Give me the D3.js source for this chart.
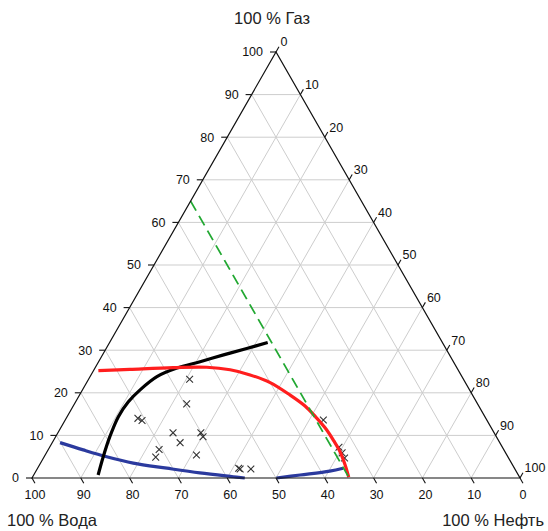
<!DOCTYPE html>
<html>
<head>
<meta charset="utf-8">
<script src="https://cdn.jsdelivr.net/npm/d3@7"></script>
<style>
  body { margin: 0; background: #fff; }
  svg { display: block; font-family: "Liberation Sans", Arial, sans-serif; }
</style>
</head>
<body>
<div id="chart"></div>
<script>
// ternary values are [gas %, oil %]; water % = 100 - gas - oil
const tickValues = [0, 10, 20, 30, 40, 50, 60, 70, 80, 90, 100];
const gridValues = [10, 20, 30, 40, 50, 60, 70, 80, 90];

const crossPoints = [
  [23.2, 20.7], [17.4, 23.0], [14.0, 14.7], [13.5, 15.8], [10.6, 23.6],
  [10.6, 29.3], [9.7, 30.2], [8.3, 26.2], [6.7, 22.7], [4.9, 22.9],
  [5.4, 31.0], [2.1, 41.6], [2.3, 41.2], [2.1, 43.8],
  [13.6, 52.9], [7.2, 59.3], [5.9, 60.6], [4.7, 61.7]
];

const blackCurve = [
  [0.7, 13.2], [5.0, 12.1], [9.7, 11.1], [14.4, 10.5], [17.9, 10.8],
  [20.7, 11.8], [23.8, 13.7], [25.8, 16.8], [27.3, 20.8], [28.9, 24.8],
  [30.4, 28.8], [31.8, 32.4]
];

const redCurve = [
  [25.2, 1.0], [25.5, 7.3], [25.9, 16.0], [26.0, 22.8], [25.4, 27.9],
  [24.2, 32.6], [22.4, 37.6], [19.5, 43.1], [16.9, 47.5], [14.3, 51.0],
  [11.5, 54.5], [8.7, 57.5], [6.1, 60.1], [3.1, 62.6], [0.2, 64.8]
];

const blueCurveLeft = [
  [8.3, 1.6], [6.6, 7.2], [5.0, 12.8], [3.5, 19.0], [2.3, 26.5],
  [1.2, 33.8], [0.3, 41.1], [0, 43.6]
];

const blueCurveRight = [
  [0, 50.1], [0.7, 54.6], [1.6, 60.2], [2.3, 62.6]
];

const greenLine = [[65, 0], [0, 65]];

document.addEventListener("DOMContentLoaded", function() {
  const width = 548;
  const height = 531;

  // triangle frame in pixels
  const left = 32, right = 520, baseY = 478, topY = 52;

  const xs = d3.scaleLinear().domain([0, 100]).range([left, right]); // oil + gas/2
  const ys = d3.scaleLinear().domain([0, 100]).range([baseY, topY]); // gas

  // gas, oil -> pixel
  const pt = (g, o) => [xs(o + g / 2), ys(g)];

  const svg = d3.select('#chart').append('svg')
    .attr('width', width)
    .attr('height', height);

  // grid lines
  const grid = svg.append('g')
    .attr('stroke', '#cdcdcd')
    .attr('stroke-width', 1)
    .attr('fill', 'none');

  gridValues.forEach(v => {
    // constant gas
    grid.append('line').attr('x1', pt(v, 0)[0]).attr('y1', pt(v, 0)[1])
      .attr('x2', pt(v, 100 - v)[0]).attr('y2', pt(v, 100 - v)[1]);
    // constant oil
    grid.append('line').attr('x1', pt(0, v)[0]).attr('y1', pt(0, v)[1])
      .attr('x2', pt(100 - v, v)[0]).attr('y2', pt(100 - v, v)[1]);
    // constant water
    grid.append('line').attr('x1', pt(0, 100 - v)[0]).attr('y1', pt(0, 100 - v)[1])
      .attr('x2', pt(100 - v, 0)[0]).attr('y2', pt(100 - v, 0)[1]);
  });

  // cross markers
  const s = 3.4;
  svg.append('g')
    .attr('stroke', '#333')
    .attr('stroke-width', 1.1)
    .selectAll('path')
    .data(crossPoints)
    .join('path')
    .attr('d', d => {
      const [x, y] = pt(d[0], d[1]);
      return `M${x - s},${y - s}L${x + s},${y + s}M${x - s},${y + s}L${x + s},${y - s}`;
    });

  const line = d3.line()
    .x(d => pt(d[0], d[1])[0])
    .y(d => pt(d[0], d[1])[1])
    .curve(d3.curveCatmullRom);

  const curves = svg.append('g').attr('fill', 'none')
    .attr('stroke-linecap', 'butt').attr('stroke-linejoin', 'round');

  curves.append('path').datum(blueCurveLeft).attr('d', line)
    .attr('stroke', '#2b3a9e').attr('stroke-width', 3.2);
  curves.append('path').datum(blueCurveRight).attr('d', line)
    .attr('stroke', '#2b3a9e').attr('stroke-width', 3.2);
  curves.append('path').datum(blackCurve).attr('d', line)
    .attr('stroke', '#000').attr('stroke-width', 3.2);
  curves.append('path').datum(redCurve).attr('d', line)
    .attr('stroke', '#ff1e1e').attr('stroke-width', 3.2);
  curves.append('path').datum(greenLine).attr('d', d3.line().x(d => pt(d[0], d[1])[0]).y(d => pt(d[0], d[1])[1]))
    .attr('stroke', '#22a832').attr('stroke-width', 1.8).attr('stroke-dasharray', '11,6');

  // triangle edges
  const A = pt(0, 0), B = pt(0, 100), C = pt(100, 0);
  svg.append('path')
    .attr('d', `M${A}L${C}L${B}Z`)
    .attr('fill', 'none')
    .attr('stroke', '#111')
    .attr('stroke-width', 1.2);

  // ticks and labels
  const tickLen = 6;
  const ax = svg.append('g').attr('font-size', '12.5px').attr('fill', '#111');
  const tk = svg.append('g').attr('stroke', '#111').attr('stroke-width', 1.1);

  // direction unit vector of the left edge
  const edgeLen = Math.hypot(C[0] - A[0], C[1] - A[1]);
  const ux = (C[0] - A[0]) / edgeLen, uy = (C[1] - A[1]) / edgeLen;

  tickValues.forEach(v => {
    // left side: gas
    const p = pt(v, 0);
    tk.append('line').attr('x1', p[0]).attr('y1', p[1]).attr('x2', p[0] - tickLen).attr('y2', p[1]);
    ax.append('text').attr('x', p[0] - 13).attr('y', p[1]).attr('dy', '0.35em')
      .attr('text-anchor', 'end').text(v);

    // right side: oil
    const q = pt(100 - v, v);
    tk.append('line').attr('x1', q[0]).attr('y1', q[1])
      .attr('x2', q[0] + ux * tickLen).attr('y2', q[1] + uy * tickLen);
    ax.append('text').attr('x', q[0] + 4.5).attr('y', q[1] - 10).attr('dy', '0.35em')
      .attr('text-anchor', 'start').text(v);

    // bottom: water
    const r = pt(0, 100 - v);
    tk.append('line').attr('x1', r[0]).attr('y1', r[1])
      .attr('x2', r[0] + ux * tickLen).attr('y2', r[1] - uy * tickLen);
    ax.append('text').attr('x', r[0] + 3).attr('y', r[1] + 17).attr('dy', '0.35em')
      .attr('text-anchor', 'middle').text(v);
  });

  // corner titles
  const titles = svg.append('g').attr('font-size', '16.5px').attr('fill', '#222');
  titles.append('text').attr('x', 272).attr('y', 18).attr('dy', '0.35em')
    .attr('text-anchor', 'middle').text('100 % Газ');
  titles.append('text').attr('x', 7).attr('y', 520).attr('dy', '0.35em')
    .attr('text-anchor', 'start').text('100 % Вода');
  titles.append('text').attr('x', 544).attr('y', 520).attr('dy', '0.35em')
    .attr('text-anchor', 'end').text('100 % Нефть');
});
</script>
</body>
</html>
